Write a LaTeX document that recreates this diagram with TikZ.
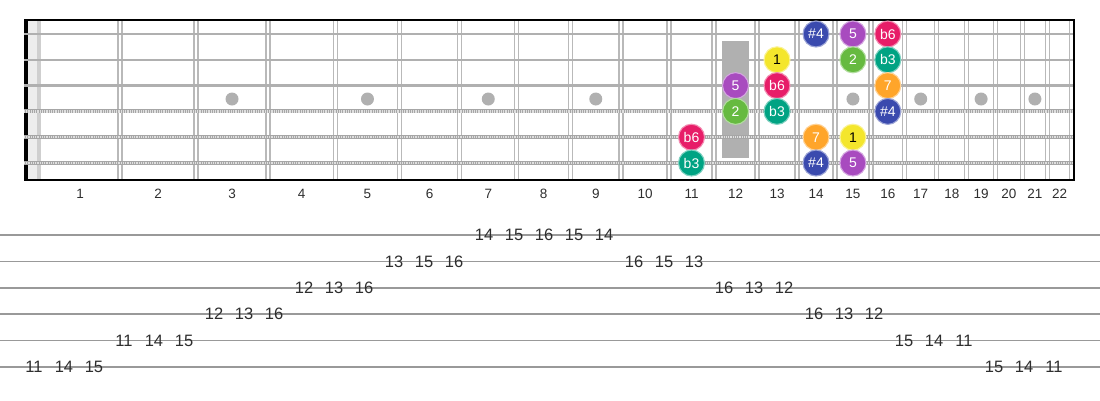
\documentclass[tikz,border=0pt]{standalone}
\usepackage{fontspec}
\setmainfont{Liberation Sans}
\usetikzlibrary{positioning}
\definecolor{cone}{HTML}{F4E62C}
\definecolor{ctwo}{HTML}{66BA40}
\definecolor{cbthree}{HTML}{00A383}
\definecolor{csfour}{HTML}{3A4AAE}
\definecolor{cfive}{HTML}{A84BBF}
\definecolor{cbsix}{HTML}{E71D68}
\definecolor{cseven}{HTML}{FFA52A}
\definecolor{ink}{HTML}{2E2E2E}
\tikzset{
    note/.style={
           circle,
           fill=#1,
           draw=#1!50!white, line width=1.1pt,
           minimum size=26pt,
           inner sep=0pt,
           text=white,
           font=\fontsize{14}{14}\selectfont,
           },
     tabnum/.style={
           inner sep=0pt,
           text=ink,
           font=\fontsize{16.5}{16.5}\selectfont,
           },
     fretnum/.style={
           inner sep=0pt,
           text=ink,
           font=\fontsize{13.5}{13.5}\selectfont,
           },
     fretline/.style={gray!55, line width=1.3pt},
     plainstr/.style={gray!62, line width=2.6pt},
     woundstr/.style={gray!70, line width=4pt},
     woundtex/.style={white!75!gray, line width=2.2pt, dash pattern=on 0.9pt off 0.9pt},
     tabline/.style={gray!80, line width=1.6pt},
     inlay/.style={gray!62},
}

\begin{document}
\begin{tikzpicture}[x=1pt, y=-1pt]
	\useasboundingbox (0,0) rectangle (1100,400);

	\foreach \n in {0,...,22} {
		\pgfmathsetmacro{\fx}{40+1434*(1-pow(2,-\n/12))}
		\coordinate (f\n) at (\fx,20);
	}
	\foreach \n in {1,...,22} {
		\pgfmathsetmacro{\mx}{40+717*(2-pow(2,-(\n-1)/12)-pow(2,-\n/12))}
		\coordinate (m\n) at (\mx,0);
	}
	\foreach \i in {1,...,6} {
		\coordinate (s\i) at (24,{34+25.8*(\i-1)});
		\coordinate (t\i) at (0,{235+26.4*(\i-1)});
	}
	\coordinate (lbl) at (0,194);
	\coordinate (dot) at (0,99);

	% nut
	\fill[gray!14] (28,20) rectangle (41,180);
	\fill[gray!38] (36.5,20) rectangle (41,180);
	\draw[black, line width=4pt] (26,20) -- (26,180);

	% inlays
	\foreach \n in {3,5,7,9,15,17,19,21}
		\fill[inlay] (m\n |- dot) circle (6.5);
	\fill[inlay] ([xshift=-13.5pt]m12 |- 0,41) rectangle ([xshift=13.5pt]m12 |- 0,158);

	% frets
	\foreach \n in {1,...,22} {
		\draw[fretline] ([xshift=-2pt]f\n) -- ++(0,160);
		\draw[fretline] ([xshift=2pt]f\n) -- ++(0,160);
	}

	% strings
	\foreach \i in {1,2,3}
		\draw[plainstr] (s\i) -- (1075,0 |- s\i);
	\foreach \i in {4,5,6} {
		\draw[woundstr] (s\i) -- (1075,0 |- s\i);
		\draw[woundtex] (s\i) -- (1075,0 |- s\i);
	}

	\draw[black, line width=1.8pt] (24,20) -- (1075,20);
	\draw[black, line width=1.8pt] (24,180) -- (1075,180);
	\draw[black, line width=2.4pt] (1074,20) -- (1074,180);

	% scale degrees
	\node[note=csfour] (s1f14) at (m14 |- s1) {\#4};
	\node[note=cfive]  (s1f15) at (m15 |- s1) {5};
	\node[note=cbsix]  (s1f16) at (m16 |- s1) {b6};

	\node[note=cone, text=black] (s2f13) at (m13 |- s2) {1};
	\node[note=ctwo]    (s2f15) at (m15 |- s2) {2};
	\node[note=cbthree] (s2f16) at (m16 |- s2) {b3};

	\node[note=cfive]  (s3f12) at (m12 |- s3) {5};
	\node[note=cbsix]  (s3f13) at (m13 |- s3) {b6};
	\node[note=cseven] (s3f16) at (m16 |- s3) {7};

	\node[note=ctwo]    (s4f12) at (m12 |- s4) {2};
	\node[note=cbthree] (s4f13) at (m13 |- s4) {b3};
	\node[note=csfour]  (s4f16) at (m16 |- s4) {\#4};

	\node[note=cbsix]  (s5f11) at (m11 |- s5) {b6};
	\node[note=cseven] (s5f14) at (m14 |- s5) {7};
	\node[note=cone, text=black] (s5f15) at (m15 |- s5) {1};

	\node[note=cbthree] (s6f11) at (m11 |- s6) {b3};
	\node[note=csfour]  (s6f14) at (m14 |- s6) {\#4};
	\node[note=cfive]   (s6f15) at (m15 |- s6) {5};

	% fret numbers
	\foreach \n in {1,...,22}
		\node[fretnum] (lbl\n) at (m\n |- lbl) {\n};

	% tab
	\foreach \i in {1,...,6}
		\draw[tabline] (t\i) -- (1100,0 |- t\i);

	\foreach \k/\s/\f in {0/6/11, 1/6/14, 2/6/15, 3/5/11, 4/5/14, 5/5/15,
			6/4/12, 7/4/13, 8/4/16, 9/3/12, 10/3/13, 11/3/16,
			12/2/13, 13/2/15, 14/2/16, 15/1/14, 16/1/15, 17/1/16,
			18/1/15, 19/1/14, 20/2/16, 21/2/15, 22/2/13,
			23/3/16, 24/3/13, 25/3/12, 26/4/16, 27/4/13, 28/4/12,
			29/5/15, 30/5/14, 31/5/11, 32/6/15, 33/6/14, 34/6/11}
		\node[tabnum] (tab\k) at ({34+30*\k},0 |- t\s) {\f};

\end{tikzpicture}
\end{document}
